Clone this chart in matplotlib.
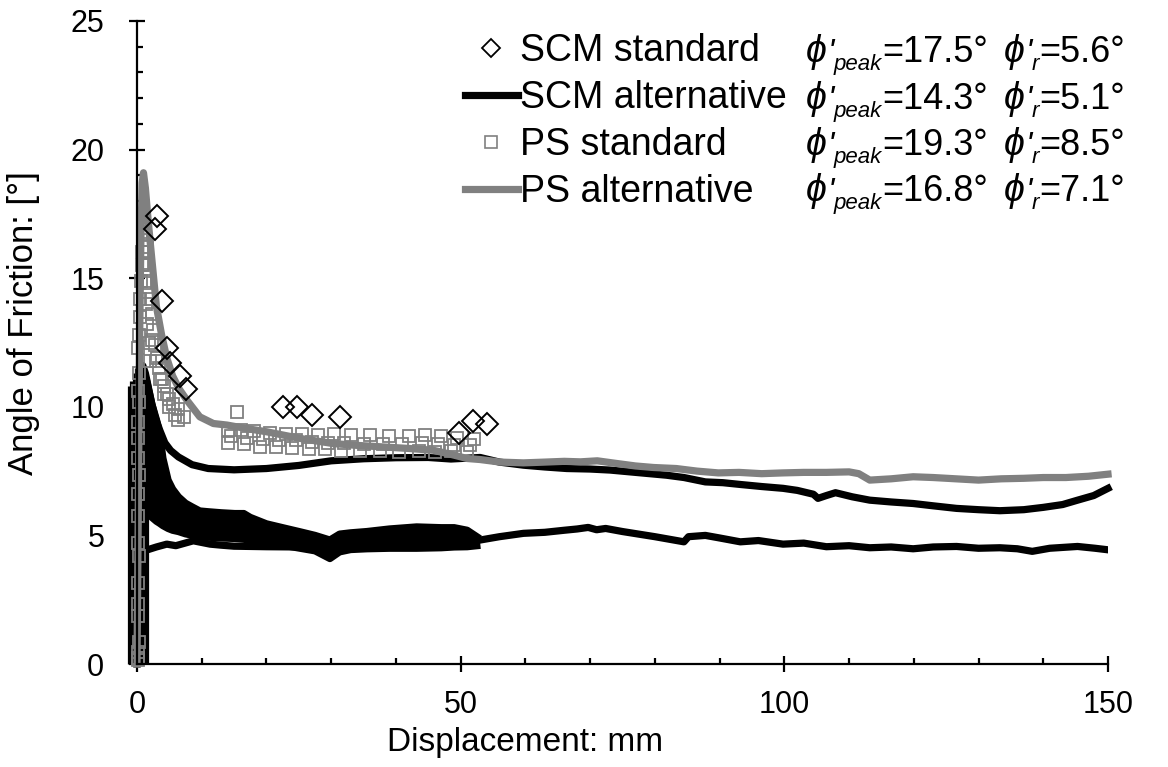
import matplotlib
matplotlib.use("Agg")
import matplotlib.pyplot as plt
from matplotlib.lines import Line2D
from matplotlib.ticker import MultipleLocator

plt.rcParams['font.family'] = ['Liberation Sans', 'DejaVu Sans']
plt.rcParams['mathtext.fontset'] = 'custom'
plt.rcParams['mathtext.rm'] = 'Liberation Sans'
plt.rcParams['mathtext.it'] = 'Liberation Sans:italic'

# ---- SCM standard (open diamonds) ----
scm_std_x = [2.8, 3.1, 3.8, 4.6, 5.1, 6.6, 7.6, 22.6, 24.7, 27.0, 31.3, 49.7, 51.9, 54.0]
scm_std_y = [16.9, 17.4, 14.1, 12.3, 11.7, 11.2, 10.7, 10.0, 10.0, 9.7, 9.6, 9.0, 9.45, 9.35]

# ---- SCM alternative (black line, several passes) ----
scm_alt_long_x = [0.0, 0.2, 0.4, 0.6, 0.9, 1.3, 1.8, 2.3, 2.8, 3.5, 4.3, 5.2, 6.4, 8.5, 11.0,
                  15.0, 20.0, 25.0, 30.0, 35.0, 40.0, 45.0, 48.5, 53.0, 56.0, 59.7, 63.0, 66.4,
                  70.0, 73.1, 77.0, 81.8, 84.5, 87.8, 90.5, 93.2, 96.5, 99.8, 102.0, 104.5, 105.2,
                  106.5, 107.9, 110.5, 113.2, 116.5, 119.9, 123.0, 126.6, 130.0, 133.3, 137.0,
                  140.0, 143.0, 145.3, 147.8, 150.0]
scm_alt_long_y = [0.0, 4.0, 8.5, 11.3, 11.6, 11.3, 10.7, 10.1, 9.6, 9.1, 8.6, 8.3, 8.05, 7.75, 7.6,
                  7.55, 7.6, 7.72, 7.9, 7.98, 8.02, 8.03, 7.97, 8.03, 7.85, 7.73, 7.66, 7.6,
                  7.58, 7.54, 7.45, 7.34, 7.25, 7.08, 7.05, 6.98, 6.9, 6.83, 6.75, 6.6, 6.44,
                  6.55, 6.66, 6.5, 6.37, 6.3, 6.24, 6.15, 6.05, 6.0, 5.96, 6.0,
                  6.09, 6.2, 6.37, 6.55, 6.83]

scm_alt_low_x = [1.0, 1.75, 3.0, 4.6, 6.0, 8.7, 11.3, 13.0, 15.0, 20.0, 25.0, 29.8, 31.5, 35.0,
                 40.0, 45.0, 50.0, 53.0, 56.0, 59.7, 63.0, 66.0, 68.0, 69.7, 71.0, 72.4, 75.0,
                 80.0, 84.5, 85.2, 87.8, 90.0, 93.2, 96.0, 99.8, 103.0, 106.5, 110.0, 113.2,
                 116.5, 119.9, 123.0, 126.6, 130.0, 133.3, 136.0, 138.3, 141.0, 145.3, 148.0, 150.0]
scm_alt_low_y = [4.45, 4.45, 4.55, 4.66, 4.6, 4.79, 4.66, 4.62, 4.58, 4.56, 4.55, 4.35, 4.5, 4.55,
                 4.6, 4.65, 4.7, 4.82, 4.95, 5.08, 5.12, 5.2, 5.25, 5.31, 5.22, 5.27, 5.15,
                 4.95, 4.75, 4.95, 5.0, 4.9, 4.75, 4.8, 4.66, 4.7, 4.56, 4.6, 4.52,
                 4.55, 4.48, 4.55, 4.57, 4.5, 4.52, 4.48, 4.38, 4.5, 4.57, 4.5, 4.44]

# repeated cycles between 0 and ~52 mm merge into a solid band
scm_band_x = [1.5, 2.3, 3.0, 3.5, 4.0, 4.8, 5.5, 6.4, 7.5, 8.5, 9.7, 11.0, 13.0, 15.1, 16.5,
              17.5, 20.0, 22.5, 25.2, 27.5, 29.8, 31.3, 33.0, 35.5, 39.0, 43.2, 47.0, 49.0,
              51.0, 52.5]
scm_band_hi = [11.0, 10.1, 9.5, 8.97, 8.0, 7.15, 6.8, 6.5, 6.25, 6.11, 5.95, 5.92, 5.88, 5.85,
               5.85, 5.7, 5.45, 5.3, 5.14, 5.0, 4.82, 5.05, 5.1, 5.15, 5.25, 5.33, 5.3, 5.3,
               5.2, 4.95]
scm_band_lo = [5.9, 5.7, 5.55, 5.47, 5.38, 5.27, 5.2, 5.15, 5.06, 5.01, 4.97, 4.93, 4.9, 4.88,
               4.85, 4.8, 4.72, 4.62, 4.5, 4.4, 4.1, 4.36, 4.45, 4.48, 4.5, 4.5, 4.52, 4.55,
               4.56, 4.6]

# initial loading of each cycle (near-vertical traces at the origin)
scm_load_x = [-1.0, -0.6, -0.2, 0.2, 0.6, 1.0, 1.3]
scm_load_top = [10.8, 11.0, 11.3, 11.5, 11.5, 11.3, 11.0]

# ---- PS standard (open grey squares) ----
ps_std_x = [0.2, 0.1, 0.2, 0.3, 0.2, 0.1, 0.2, 0.3, 0.2, 0.1, 0.2, 0.3, 0.2, 0.1, 0.2, 0.3, 0.2,
            0.3, 0.2,
            0.3, 0.4, 0.5, 0.6, 0.7, 0.8, 0.9, 1.1, 1.3, 1.5, 1.7, 1.9, 2.1, 2.3, 2.5, 2.8,
            3.1, 3.4, 3.8, 4.2, 4.6, 5.0, 5.6, 6.3, 7.2,
            1.0, 1.2, 1.4, 1.6, 1.8, 2.0, 2.3, 2.9, 3.5, 4.2, 5.0, 5.8, 6.3,
            15.4,
            14.0, 16.0, 18.0, 20.5, 23.0, 25.5, 28.0, 30.5, 33.0, 36.0, 39.0, 42.0, 44.5, 47.0,
            49.5, 52.0,
            14.5, 17.0, 19.5, 22.0, 24.5, 27.0, 29.5, 32.0, 35.0, 38.0, 41.0, 44.0, 46.5, 49.0,
            51.5,
            14.0, 16.5, 19.0, 21.5, 24.0, 26.5, 29.0, 31.5, 34.5, 37.5, 40.5, 43.5, 46.0, 48.5,
            51.0]
ps_std_y = [0.15, 0.25, 0.45, 0.85, 1.85, 2.35, 3.15, 4.2, 4.7, 5.75, 6.6, 7.35, 8.0, 8.8, 9.4,
            10.2, 10.6, 11.3, 12.3,
            12.8, 13.5, 14.2, 14.9, 15.5, 16.0, 16.5, 16.8, 16.7, 16.2, 15.6, 14.9, 14.2, 13.6,
            13.0, 12.4, 11.9, 11.5, 11.1, 10.8, 10.5, 10.3, 10.1, 9.9, 9.6,
            15.5, 14.8, 14.0, 13.2, 12.5, 11.8, 12.6, 11.8, 11.1, 10.5, 10.0, 9.7, 9.5,
            9.8,
            9.1, 9.1, 9.05, 9.0, 8.95, 8.95, 8.9, 8.95, 8.9, 8.9, 8.85, 8.85, 8.9, 8.85, 8.8, 8.75,
            8.85, 8.8, 8.75, 8.7, 8.7, 8.65, 8.6, 8.6, 8.55, 8.55, 8.55, 8.6, 8.55, 8.5, 8.5,
            8.6, 8.55, 8.45, 8.45, 8.4, 8.35, 8.35, 8.3, 8.3, 8.3, 8.25, 8.3, 8.25, 8.3, 8.25]

# ---- PS alternative (grey line) ----
ps_alt_x = [0.0, 0.2, 0.4, 0.6, 0.8, 1.0, 1.3, 1.6, 2.0, 2.5, 3.0, 3.8, 4.6, 5.5, 6.5, 7.7, 9.7,
            11.8, 13.9, 17.0, 20.0, 25.2, 30.3, 34.0, 38.0, 42.0, 45.8, 48.5, 51.0, 53.0, 56.1,
            59.7, 63.0, 66.0, 68.5, 71.1, 74.0, 77.0, 79.8, 83.3, 86.5, 89.8, 93.0, 96.5, 99.8,
            103.0, 106.5, 110.0, 111.5, 113.2, 116.5, 119.9, 123.0, 126.5, 130.0, 133.5, 137.0,
            140.0, 143.5, 147.0, 150.0]
ps_alt_y = [0.0, 6.0, 12.5, 16.5, 18.7, 19.1, 18.5, 17.6, 16.5, 15.2, 13.9, 12.8, 11.9, 11.2,
            10.7, 10.26, 9.61, 9.35, 9.29, 9.15, 9.03, 8.77, 8.57, 8.5, 8.44, 8.38, 8.31, 8.15,
            7.99, 7.95, 7.85, 7.82, 7.85, 7.88, 7.86, 7.9, 7.8, 7.7, 7.64, 7.6, 7.5, 7.43, 7.45,
            7.4, 7.43, 7.45, 7.45, 7.47, 7.4, 7.15, 7.2, 7.28, 7.25, 7.2, 7.15, 7.2, 7.22, 7.25,
            7.25, 7.3, 7.38]

labels = ['SCM standard', 'SCM alternative', 'PS standard', 'PS alternative']
phi_peak = [17.5, 14.3, 19.3, 16.8]
phi_res = [5.6, 5.1, 8.5, 7.1]

GREY = '#808080'
LW = 5.2
W, H = 1168, 767

fig = plt.figure(figsize=(W / 100, H / 100), dpi=100)
ax = fig.add_axes([137 / W, 1 - 664 / H, 971 / W, 643 / H])

# black: SCM alternative
for xv, top in zip(scm_load_x, scm_load_top):
    ax.plot([xv, xv], [0, top], color='k', lw=LW, solid_capstyle='butt', clip_on=False)
ax.fill_between(scm_band_x, scm_band_lo, scm_band_hi, color='k', lw=0)
ax.plot(scm_band_x, scm_band_hi, color='k', lw=LW)
ax.plot(scm_band_x, scm_band_lo, color='k', lw=LW)
ax.plot(scm_alt_long_x, scm_alt_long_y, color='k', lw=LW, clip_on=False)
ax.plot(scm_alt_low_x, scm_alt_low_y, color='k', lw=LW)

# grey: PS alternative / PS standard
ax.plot(ps_alt_x, ps_alt_y, color=GREY, lw=LW, clip_on=False)
ax.plot(ps_std_x, ps_std_y, ls='none', marker='s', ms=9, mfc='none', mec=GREY, mew=1.3,
        clip_on=False)

# SCM standard diamonds
ax.plot(scm_std_x, scm_std_y, ls='none', marker='D', ms=11.5, mfc='none', mec='k', mew=1.4)

ax.set_xlim(0, 150)
ax.set_ylim(0, 25)
ax.spines['top'].set_visible(False)
ax.spines['right'].set_visible(False)
for s in ['left', 'bottom']:
    ax.spines[s].set_linewidth(1.6)

ax.xaxis.set_major_locator(MultipleLocator(50))
ax.xaxis.set_minor_locator(MultipleLocator(10))
ax.yaxis.set_major_locator(MultipleLocator(5))
ax.yaxis.set_minor_locator(MultipleLocator(1))
ax.tick_params(which='major', direction='inout', length=11, width=1.6, labelsize=22)
ax.tick_params(which='minor', direction='in', length=4.5, width=1.6)
ax.tick_params(axis='x', which='major', pad=13)
ax.tick_params(axis='y', which='major', pad=18)

ax.set_xlabel('Displacement: mm', fontsize=24)
ax.xaxis.set_label_coords(0.40, -0.098)
ax.set_ylabel('Angle of Friction: [°]', fontsize=25)
ax.yaxis.set_label_coords(-0.100, 0.53)

handles = [
    Line2D([], [], ls='none', marker='D', ms=9, mfc='none', mec='k', mew=1.3),
    Line2D([], [], color='k', lw=LW),
    Line2D([], [], ls='none', marker='s', ms=8, mfc='none', mec=GREY, mew=1.2),
    Line2D([], [], color=GREY, lw=LW),
]
ax.legend(handles, labels, loc='upper left', bbox_to_anchor=(465 / W, 1 - 33 / H),
          bbox_transform=fig.transFigure, frameon=False, fontsize=27, borderaxespad=0,
          handlelength=1.41, handletextpad=0.05, labelspacing=0.29, borderpad=0)

# friction angle annotations: phi' with subscript, then the value
renderer = fig.canvas.get_renderer()


def put_phi(x0, base, sub, value):
    t = fig.text(x0 / W, 1 - base / H, r"$\phi$", fontsize=27, va='baseline')
    x = t.get_window_extent(renderer).x1 + 1
    p = fig.text(x / W, 1 - base / H, "'", fontsize=24, style='italic', va='baseline')
    x = p.get_window_extent(renderer).x1
    s = fig.text(x / W, 1 - (base + 8) / H, sub, fontsize=16, style='italic', va='baseline')
    x = s.get_window_extent(renderer).x1
    fig.text(x / W, 1 - base / H, f"={value}°", fontsize=26, va='baseline')


row_base = [62, 109, 155, 201]
for yy, pk, rs in zip(row_base, phi_peak, phi_res):
    put_phi(805, yy, 'peak', pk)
    put_phi(1003, yy, 'r', rs)

fig.savefig('out.png', dpi=100)
